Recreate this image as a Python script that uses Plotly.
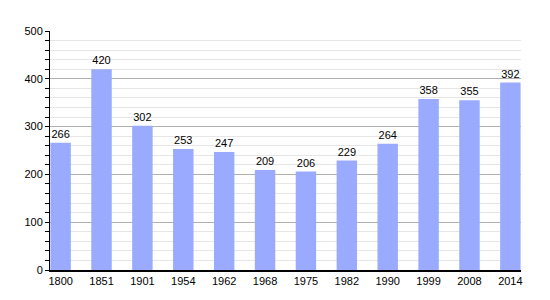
import plotly.graph_objects as go

years = ["1800", "1851", "1901", "1954", "1962", "1968", "1975", "1982", "1990", "1999", "2008", "2014"]
population = [266, 420, 302, 253, 247, 209, 206, 229, 264, 358, 355, 392]

fig = go.Figure(
    go.Bar(
        x=years,
        y=population,
        text=[str(v) for v in population],
        textposition="outside",
        textfont=dict(family="Liberation Sans, Arial, sans-serif", size=11, color="black"),
        marker=dict(color="#99aaff", line=dict(width=0)),
        width=0.5,
        cliponaxis=False,
    )
)

fig.update_layout(
    width=550,
    height=300,
    margin=dict(l=50, r=29, t=31, b=30),
    paper_bgcolor="white",
    plot_bgcolor="white",
    showlegend=False,
    font=dict(family="Liberation Sans, Arial, sans-serif", size=11, color="black"),
)

fig.update_xaxes(
    type="category",
    range=[-0.26, 11.26],
    showline=True,
    linecolor="black",
    linewidth=1.5,
    ticks="",
    showgrid=False,
    tickfont=dict(size=11),
)

fig.update_yaxes(
    range=[0, 500],
    tickvals=[0, 100, 200, 300, 400, 500],
    showline=True,
    linecolor="black",
    linewidth=1,
    ticks="outside",
    ticklen=4,
    tickcolor="black",
    showgrid=True,
    gridcolor="#b0b0b0",
    gridwidth=1,
    zeroline=False,
    tickfont=dict(size=11),
    minor=dict(
        dtick=20,
        showgrid=True,
        gridcolor="#e6e6e6",
        gridwidth=1,
        ticks="outside",
        ticklen=4,
        tickcolor="black",
    ),
)

fig.write_html("out.html")
